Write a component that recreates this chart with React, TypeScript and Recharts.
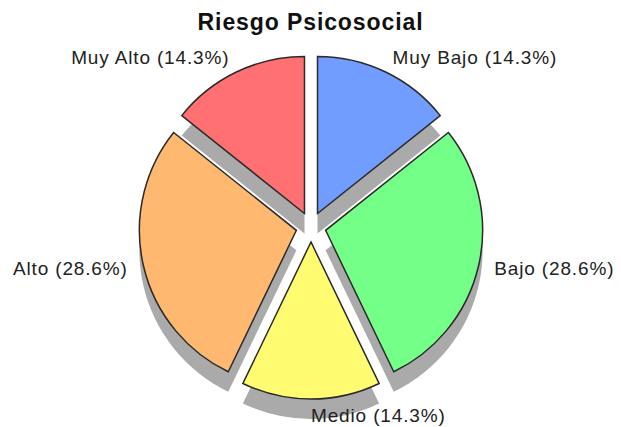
import React from 'react';
import { PieChart, Pie, Sector } from 'recharts';

if (typeof document !== 'undefined') {
  document.body.style.margin = '0';
}

const categories = ['Muy Bajo', 'Bajo', 'Medio', 'Alto', 'Muy Alto'];
const values = [1, 2, 1, 2, 1];
const colors = ['#709DFF', '#74FF88', '#FFFC71', '#FFB870', '#FF7073'];
const title = 'Riesgo Psicosocial';

const data = categories.map((name, i) => ({ name, value: values[i] }));

const W = 621;
const H = 427;
const CX = 311;
const CY = 227;
const R = 157;
const EXPLODE = 15;
const SHADOW_DX = 0;
const SHADOW_DY = 20;
const LABEL_R = 188;
const RAD = Math.PI / 180;
const FONT = '"Liberation Sans", Arial, sans-serif';

const offsetOf = (midAngle: number, dist: number) => ({
  x: dist * Math.cos(-midAngle * RAD),
  y: dist * Math.sin(-midAngle * RAD),
});

const renderShadow = (p: any) => {
  const o = offsetOf(p.midAngle, EXPLODE);
  return (
    <Sector
      cx={p.cx + o.x + SHADOW_DX}
      cy={p.cy + o.y + SHADOW_DY}
      innerRadius={0}
      outerRadius={p.outerRadius}
      startAngle={p.startAngle}
      endAngle={p.endAngle}
      fill="#aaaaaa"
      stroke="none"
    />
  );
};

const renderSlice = (p: any) => {
  const o = offsetOf(p.midAngle, EXPLODE);
  const l = offsetOf(p.midAngle, LABEL_R);
  const lx = p.cx + l.x;
  const ly = p.cy + l.y;
  const anchor = lx > p.cx - 1 ? 'start' : 'end';
  return (
    <g>
      <Sector
        cx={p.cx + o.x}
        cy={p.cy + o.y}
        innerRadius={0}
        outerRadius={p.outerRadius}
        startAngle={p.startAngle}
        endAngle={p.endAngle}
        fill={colors[p.index]}
        stroke="#2a2a2a"
        strokeWidth={1.5}
      />
      <text
        x={lx}
        y={ly}
        textAnchor={anchor}
        dominantBaseline="central"
        fontFamily={FONT}
        fontSize={19}
        letterSpacing={0.85}
        fill="#222"
      >
        {`${p.name} (${(p.percent * 100).toFixed(1)}%)`}
      </text>
    </g>
  );
};

export default function App() {
  return (
    <div style={{ width: W, height: H, background: '#fff' }}>
      <PieChart width={W} height={H} margin={{ top: 0, right: 0, bottom: 0, left: 0 }}>
        <text
          x={W / 2}
          y={22}
          textAnchor="middle"
          dominantBaseline="central"
          fontFamily={FONT}
          fontWeight="bold"
          fontSize={23}
          letterSpacing={0.9}
          fill="#111"
        >
          {title}
        </text>
        <Pie
          data={data}
          dataKey="value"
          nameKey="name"
          cx={CX}
          cy={CY}
          outerRadius={R}
          startAngle={90}
          endAngle={-270}
          fill="none"
          stroke="none"
          label={renderShadow}
          labelLine={false}
          isAnimationActive={false}
        />
        <Pie
          data={data}
          dataKey="value"
          nameKey="name"
          cx={CX}
          cy={CY}
          outerRadius={R}
          startAngle={90}
          endAngle={-270}
          fill="none"
          stroke="none"
          label={renderSlice}
          labelLine={false}
          isAnimationActive={false}
        />
      </PieChart>
    </div>
  );
}
